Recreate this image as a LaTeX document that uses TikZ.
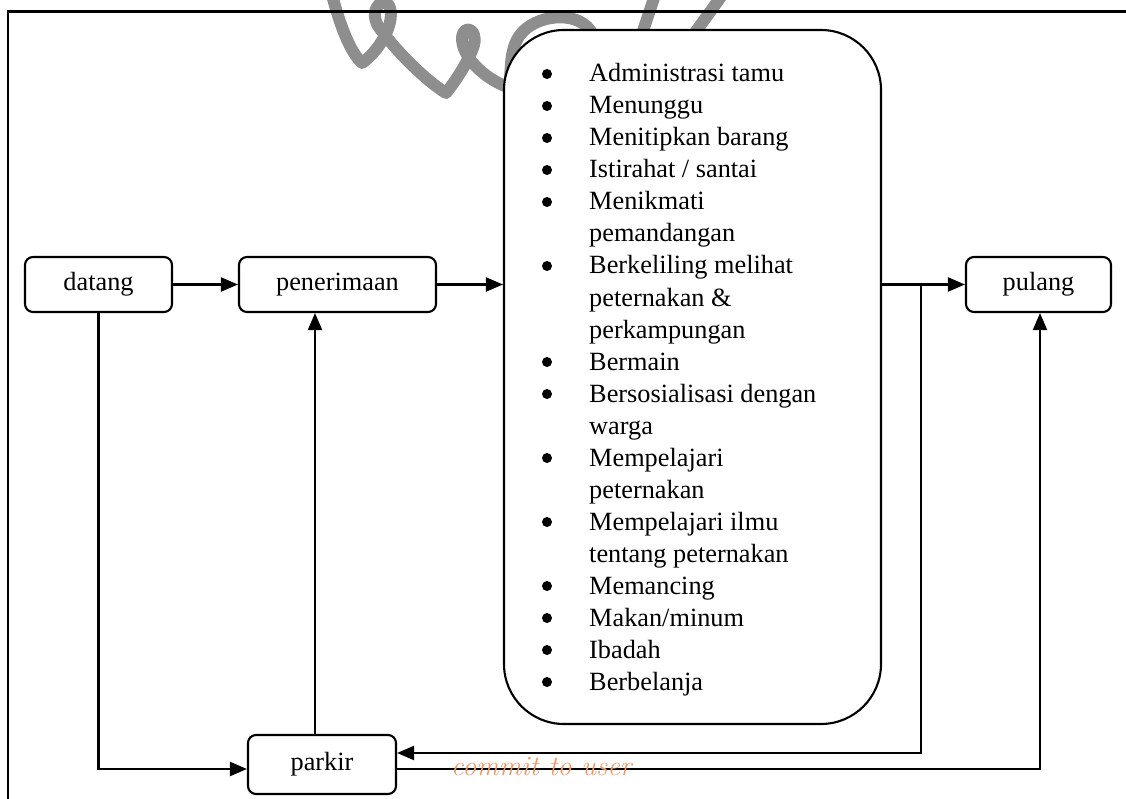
\documentclass[tikz,border=0pt]{standalone}
\usepackage{fontspec}
\setmainfont{Liberation Serif}
\newfontfamily\wmfont{Latin Modern Roman}
\usetikzlibrary{arrows.meta}
\definecolor{wmgray}{RGB}{142,142,142}
\definecolor{wmorange}{RGB}{242,150,100}
\begin{document}
\begin{tikzpicture}[x=1pt,y=-1pt,
  stage/.style={draw,line width=2.1pt,rounded corners=8pt,minimum height=55pt,
    inner sep=0pt,fill=white,font=\fontsize{26.3}{30}\selectfont},
  actbox/.style={draw,line width=2.1pt,rounded corners=60pt,minimum width=377pt,
    minimum height=694pt,inner sep=0pt,fill=white},
  flow/.style={line width=2.1pt,-{Triangle[length=17pt,width=14pt]}},
  frame/.style={line width=2.2pt},
  item/.style={anchor=base west,inner sep=0pt,font=\fontsize{26.3}{32}\selectfont},
  stamp/.style={line width=12pt,draw=wmgray,line cap=round,line join=round},
]
\useasboundingbox (0,0) rectangle (1126,799);

% grey stamp behind the activity box
\draw[stamp] (332,-5) .. controls (340,25) and (350,52) .. (362,63)
  .. controls (378,52) and (395,25) .. (390,8)
  .. controls (385,-6) and (368,8) .. (378,26)
  .. controls (395,50) and (425,80) .. (446,93)
  .. controls (458,78) and (470,58) .. (474,45)
  .. controls (478,28) and (463,24) .. (462,38)
  .. controls (462,58) and (485,78) .. (505,86)
  .. controls (515,88) and (505,55) .. (520,35)
  .. controls (535,15) and (575,10) .. (590,30)
  .. controls (600,45) and (595,60) .. (590,70);
\draw[stamp] (655,-5) -- (640,40);
\draw[stamp] (722,-5) .. controls (712,10) and (700,25) .. (690,40);

% page frame
\draw[frame] (8,799) -- (8,11.5) -- (1126,11.5);

% stages
\node[stage,minimum width=147pt] (datang) at (98.5,284.5) {datang};
\node[stage,minimum width=197pt] (penerimaan) at (337.5,284.5) {penerimaan};
\node[stage,minimum width=145pt] (pulang) at (1038.5,284.5) {pulang};
\node[stage,minimum width=148pt,minimum height=59pt] (parkir) at (322,764.5) {parkir};
\node[actbox] (kegiatan) at (692.5,377) {};

% activities
\foreach \txt/\bul [count=\i from 0] in {
  {Administrasi tamu}/1, {Menunggu}/1, {Menitipkan barang}/1,
  {Istirahat / santai}/1, {Menikmati}/1, {pemandangan}/0,
  {Berkeliling melihat}/1, {peternakan \&}/0, {perkampungan}/0,
  {Bermain}/1, {Bersosialisasi dengan}/1, {warga}/0,
  {Mempelajari}/1, {peternakan}/0, {Mempelajari ilmu}/1,
  {tentang peternakan}/0, {Memancing}/1, {Makan/minum}/1,
  {Ibadah}/1, {Berbelanja}/1}
{
  \node[item] (li\i) at (589,82+32*\i) {\txt};
  \ifnum\bul=1 \fill (547,74+32*\i) circle (5pt); \fi
}

% flow
\draw[flow] (datang.east) -- (penerimaan.west);
\draw[flow] (penerimaan.east) -- (penerimaan.east -| kegiatan.west);
\draw[flow] (pulang.west -| kegiatan.east) -- (pulang.west);
\coordinate (split) at (921,284.5);
\draw[flow] (split) |- ([yshift=11.5pt]parkir.east);
\draw[flow] (datang.south) |- ([yshift=-4.5pt]parkir.west);
\draw[flow] ([xshift=-7pt]parkir.north) -- ([xshift=-7pt]parkir.north |- penerimaan.south);
\draw[flow] ([yshift=-4.5pt]parkir.east) -| ([xshift=1.5pt]pulang.south);

% watermark line
\node[anchor=base west,inner sep=0pt,text=wmorange,
  font=\wmfont\itshape\fontsize{28}{30}\selectfont] (cmt) at (451,775) {commit to user};
\end{tikzpicture}
\end{document}
